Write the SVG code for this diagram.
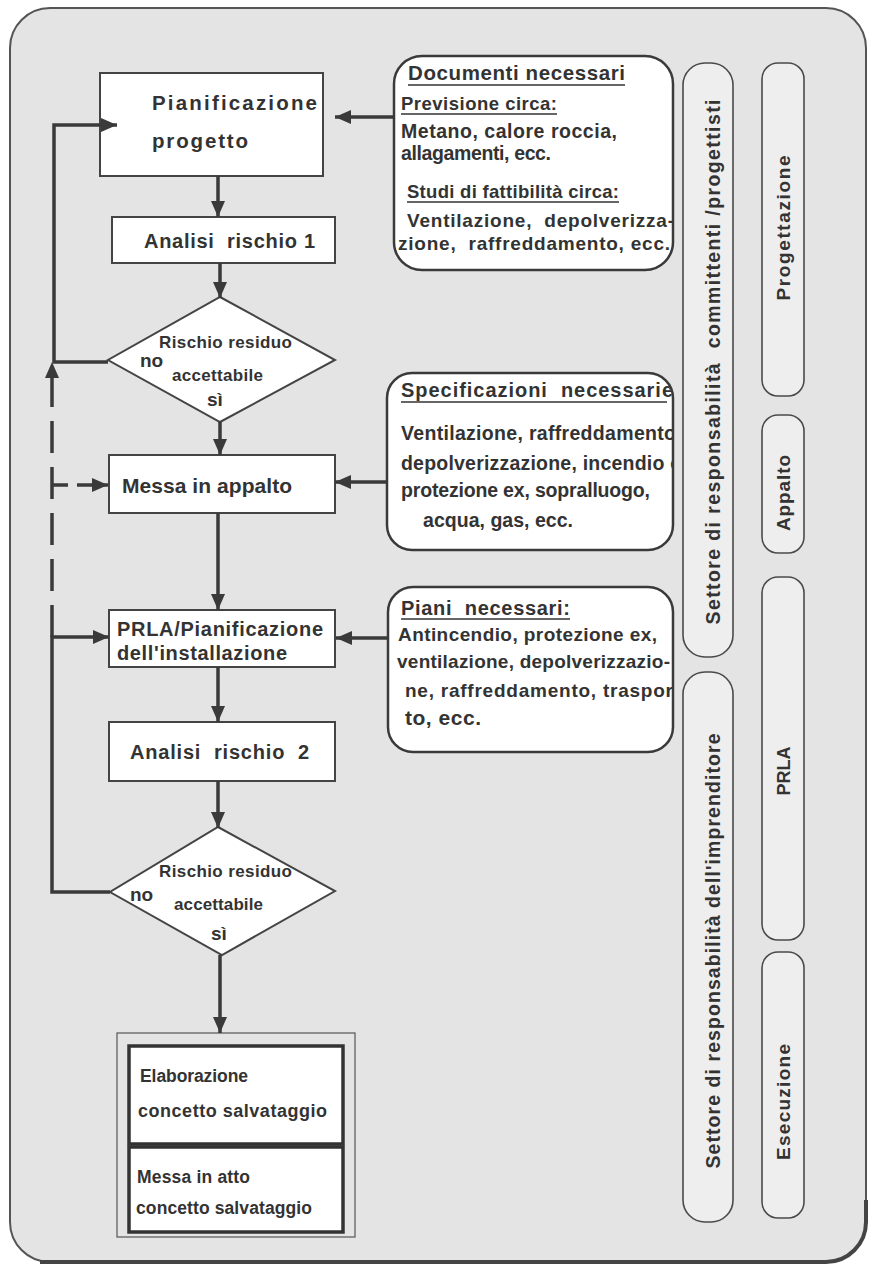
<svg xmlns="http://www.w3.org/2000/svg" width="869" height="1274" viewBox="0 0 869 1274">
<defs>
<style>
text{font-family:"Liberation Sans",Arial,sans-serif;font-weight:bold;fill:#333}
.box{fill:#fff;stroke:#444;stroke-width:2}
.rbox{fill:#fff;stroke:#3a3a3a;stroke-width:2.5}
.pill{fill:#eeeeee;stroke:#4a4a4a;stroke-width:1.6}
.con{fill:none;stroke:#3a3a3a;stroke-width:3.5}
.dash{fill:none;stroke:#3a3a3a;stroke-width:3.5;stroke-dasharray:32 14}
.ul{stroke:#333;stroke-width:1.6}
</style>
<marker id="ah" viewBox="0 0 16 14" refX="16" refY="7" markerWidth="16" markerHeight="14" markerUnits="userSpaceOnUse" orient="auto">
<path d="M0,0 L16,7 L0,14 z" fill="#3a3a3a"/>
</marker>
<clipPath id="cDoc"><rect x="395" y="57" width="277" height="212" rx="28"/></clipPath>
<clipPath id="cSpec"><rect x="388" y="374" width="284" height="175" rx="24"/></clipPath>
<clipPath id="cPiani"><rect x="389" y="588" width="283" height="163" rx="24"/></clipPath>
</defs>

<rect id="frame" x="10" y="8" width="856" height="1254" rx="40" fill="#e4e4e4" stroke="#555" stroke-width="2"/>
<path d="M866,1200 L866,1222 A40,40 0 0 1 826,1262 L40,1262" fill="none" stroke="#444" stroke-width="4"/>

<g id="pianificazione">
<rect class="box" x="100" y="73" width="223" height="103"/>
<text x="152" y="110" font-size="20.5" textLength="165" lengthAdjust="spacing">Pianificazione</text>
<text x="152" y="148" font-size="20.5" textLength="96" lengthAdjust="spacing">progetto</text>
</g>

<g id="analisi1">
<rect class="box" x="112" y="217" width="223" height="46"/>
<text x="144" y="248" font-size="20" textLength="171" lengthAdjust="spacing" xml:space="preserve">Analisi  rischio 1</text>
</g>

<g id="decisione1">
<polygon class="box" points="220,297 335,360 220,422 108,360"/>
<text x="159" y="348" font-size="17" textLength="133" lengthAdjust="spacing">Rischio residuo</text>
<text x="140" y="367" font-size="19">no</text>
<text x="172" y="381" font-size="17" textLength="91" lengthAdjust="spacing">accettabile</text>
<text x="207" y="406" font-size="19">sì</text>
</g>

<g id="messa-appalto">
<rect class="box" x="109" y="455" width="226" height="58"/>
<text x="122" y="493" font-size="21" textLength="170" lengthAdjust="spacing">Messa in appalto</text>
</g>

<g id="prla">
<rect class="box" x="109" y="610" width="226" height="57"/>
<text x="117" y="636" font-size="20" textLength="206" lengthAdjust="spacing">PRLA/Pianificazione</text>
<text x="117" y="660" font-size="20" textLength="170" lengthAdjust="spacing">dell'installazione</text>
</g>

<g id="analisi2">
<rect class="box" x="109" y="722" width="226" height="59"/>
<text x="130" y="759" font-size="20" textLength="179" lengthAdjust="spacing" xml:space="preserve">Analisi  rischio  2</text>
</g>

<g id="decisione2">
<polygon class="box" points="218,827 335,891 222,955 110,892"/>
<text x="159" y="877" font-size="17" textLength="133" lengthAdjust="spacing">Rischio residuo</text>
<text x="130" y="901" font-size="19">no</text>
<text x="174" y="910" font-size="17" textLength="89" lengthAdjust="spacing">accettabile</text>
<text x="211" y="940" font-size="19">sì</text>
</g>

<g id="salvataggio">
<rect x="117" y="1033" width="238" height="204" fill="none" stroke="#555" stroke-width="1.2"/>
<rect x="129" y="1046" width="214" height="98" fill="#fff" stroke="#333" stroke-width="3.5"/>
<rect x="129" y="1147" width="214" height="85" fill="#fff" stroke="#333" stroke-width="3.5"/>
<text x="140" y="1082" font-size="17.5" textLength="108" lengthAdjust="spacing">Elaborazione</text>
<text x="138" y="1117" font-size="18" textLength="189" lengthAdjust="spacing">concetto salvataggio</text>
<text x="137" y="1183" font-size="17.5" textLength="113" lengthAdjust="spacing">Messa in atto</text>
<text x="136" y="1214" font-size="17.5" textLength="176" lengthAdjust="spacing">concetto salvataggio</text>
</g>

<g id="documenti">
<rect class="rbox" x="394" y="56" width="279" height="214" rx="28"/>
<g clip-path="url(#cDoc)">
<text x="408" y="80" font-size="20.5" textLength="217" lengthAdjust="spacing">Documenti necessari</text>
<line class="ul" x1="408" y1="85" x2="625" y2="85"/>
<text x="401" y="110" font-size="18.5" textLength="156" lengthAdjust="spacing">Previsione circa:</text>
<line class="ul" x1="401" y1="114" x2="557" y2="114"/>
<text x="401" y="138" font-size="19.5" textLength="216" lengthAdjust="spacing">Metano, calore roccia,</text>
<text x="401" y="160" font-size="19.5" textLength="150" lengthAdjust="spacing">allagamenti, ecc.</text>
<text x="407" y="198" font-size="18.5" textLength="212" lengthAdjust="spacing">Studi di fattibilità circa:</text>
<line class="ul" x1="407" y1="202" x2="619" y2="202"/>
<text x="407" y="227" font-size="19" textLength="267" lengthAdjust="spacing" xml:space="preserve">Ventilazione,  depolverizza-</text>
<text x="398" y="250" font-size="19" textLength="272" lengthAdjust="spacing" xml:space="preserve">zione,  raffreddamento, ecc.</text>
</g>
</g>

<g id="specificazioni">
<rect class="rbox" x="387" y="373" width="286" height="177" rx="25"/>
<g clip-path="url(#cSpec)">
<text x="401" y="397" font-size="20" textLength="272" lengthAdjust="spacing" xml:space="preserve">Specificazioni  necessarie</text>
<line class="ul" x1="401" y1="402" x2="667" y2="402"/>
<text x="401" y="440" font-size="19.5" textLength="275" lengthAdjust="spacing">Ventilazione, raffreddamento</text>
<text x="401" y="470" font-size="19.5" textLength="280" lengthAdjust="spacing">depolverizzazione, incendio e</text>
<text x="401" y="497" font-size="19.5" textLength="249" lengthAdjust="spacing">protezione ex, sopralluogo,</text>
<text x="423" y="527" font-size="19.5" textLength="150" lengthAdjust="spacing">acqua, gas, ecc.</text>
</g>
</g>

<g id="piani">
<rect class="rbox" x="388" y="587" width="285" height="165" rx="25"/>
<g clip-path="url(#cPiani)">
<text x="401" y="615" font-size="20" textLength="169" lengthAdjust="spacing" xml:space="preserve">Piani  necessari:</text>
<line class="ul" x1="401" y1="619" x2="570" y2="619"/>
<text x="398" y="641" font-size="19" textLength="259" lengthAdjust="spacing">Antincendio, protezione ex,</text>
<text x="397" y="668" font-size="19" textLength="273" lengthAdjust="spacing">ventilazione, depolverizzazio-</text>
<text x="405" y="697" font-size="19" textLength="268" lengthAdjust="spacing">ne, raffreddamento, traspor</text>
<text x="405" y="725" font-size="21" textLength="76" lengthAdjust="spacing">to, ecc.</text>
</g>
</g>

<g id="settore-committenti">
<rect class="pill" x="683" y="63" width="50" height="594" rx="22"/>
<text transform="translate(720,362) rotate(-90)" text-anchor="middle" font-size="19.5" textLength="525" lengthAdjust="spacing" xml:space="preserve">Settore di responsabilità  committenti /progettisti</text>
</g>
<g id="settore-imprenditore">
<rect class="pill" x="683" y="672" width="50" height="550" rx="22"/>
<text transform="translate(720,951) rotate(-90)" text-anchor="middle" font-size="19.5" textLength="435" lengthAdjust="spacing">Settore di responsabilità dell'imprenditore</text>
</g>
<g id="fase-progettazione">
<rect class="pill" x="762" y="63" width="42" height="333" rx="16"/>
<text transform="translate(790,228) rotate(-90)" text-anchor="middle" font-size="19" textLength="145" lengthAdjust="spacing">Progettazione</text>
</g>
<g id="fase-appalto">
<rect class="pill" x="762" y="415" width="42" height="138" rx="16"/>
<text transform="translate(790,493) rotate(-90)" text-anchor="middle" font-size="19" textLength="76" lengthAdjust="spacing">Appalto</text>
</g>
<g id="fase-prla">
<rect class="pill" x="762" y="577" width="42" height="363" rx="16"/>
<text transform="translate(790,771) rotate(-90)" text-anchor="middle" font-size="18">PRLA</text>
</g>
<g id="fase-esecuzione">
<rect class="pill" x="762" y="952" width="42" height="266" rx="16"/>
<text transform="translate(790,1102) rotate(-90)" text-anchor="middle" font-size="19" textLength="116" lengthAdjust="spacing">Esecuzione</text>
</g>

<g id="connectors">
<line class="con" x1="394" y1="117" x2="335" y2="117" marker-end="url(#ah)"/>
<polyline class="con" points="108,362 54,362 54,125 117,125" marker-end="url(#ah)"/>
<line class="con" x1="218" y1="176" x2="218" y2="217" marker-end="url(#ah)"/>
<line class="con" x1="220" y1="263" x2="220" y2="298" marker-end="url(#ah)"/>
<line class="con" x1="220" y1="422" x2="220" y2="455" marker-end="url(#ah)"/>
<line class="con" x1="387" y1="482" x2="335" y2="482" marker-end="url(#ah)"/>
<line class="dash" x1="52" y1="637" x2="52" y2="376"/>
<path d="M52,362 L45,378 L59,378 z" fill="#3a3a3a"/>
<line class="con" x1="52" y1="485" x2="68" y2="485"/>
<line class="con" x1="77" y1="485" x2="108" y2="485" marker-end="url(#ah)"/>
<line class="con" x1="218" y1="513" x2="218" y2="610" marker-end="url(#ah)"/>
<polyline class="con" points="110,892 52,892 52,637 109,637" marker-end="url(#ah)"/>
<line class="con" x1="388" y1="638" x2="336" y2="638" marker-end="url(#ah)"/>
<line class="con" x1="218" y1="667" x2="218" y2="722" marker-end="url(#ah)"/>
<line class="con" x1="218" y1="781" x2="218" y2="828" marker-end="url(#ah)"/>
<line class="con" x1="220" y1="955" x2="220" y2="1033" marker-end="url(#ah)"/>
</g>
</svg>
